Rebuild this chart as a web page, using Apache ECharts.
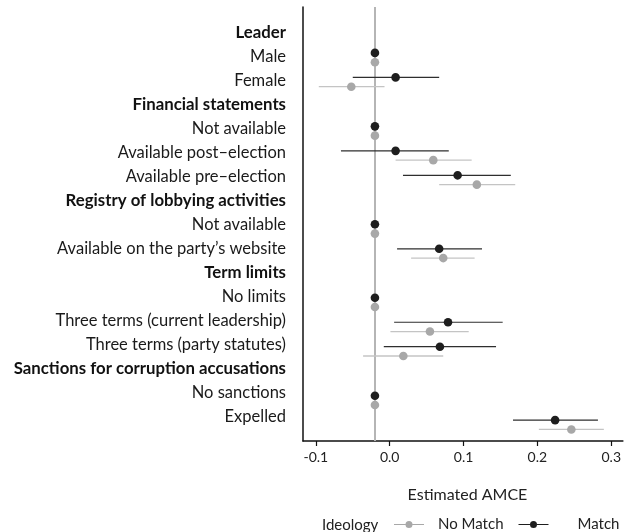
<!DOCTYPE html>
<html>
<head>
<meta charset="utf-8">
<script src="https://cdn.jsdelivr.net/npm/echarts@6/dist/echarts.min.js"></script>
<style>html,body{margin:0;padding:0;background:#fff}#c{width:624px;height:532px}</style>
</head>
<body>
<div id="c"></div>
<script>
// Row labels (top to bottom) and whether each is a group header
const rowLabels = ['Leader','Male','Female','Financial statements','Not available','Available post\u2013election','Available pre\u2013election','Registry of lobbying activities','Not available','Available on the party\u2019s website','Term limits','No limits','Three terms (current leadership)','Three terms (party statutes)','Sanctions for corruption accusations','No sanctions','Expelled'];
const isHeader = [true,false,false,true,false,false,false,true,false,false,true,false,false,false,true,false,false];

// Estimated AMCE and confidence bounds (null = no value)
const matchEst   = [null,-0.02, 0.008,null,-0.02, 0.008,0.092,null,-0.02,0.067,null,-0.02,0.079, 0.068,null,-0.02,0.224];
const matchLo    = [null, null,-0.050,null, null,-0.066,0.018,null, null,0.010,null, null,0.006,-0.008,null, null,0.167];
const matchHi    = [null, null, 0.067,null, null, 0.080,0.164,null, null,0.125,null, null,0.153, 0.144,null, null,0.282];
const noMatchEst = [null,-0.02,-0.052,null,-0.02, 0.059,0.118,null,-0.02,0.0725,null,-0.02,0.0545,0.0185,null,-0.02,0.246];
const noMatchLo  = [null, null,-0.096,null, null, 0.008,0.067,null, null,0.029,null, null,0.001,-0.036,null, null,0.202];
const noMatchHi  = [null, null,-0.007,null, null, 0.111,0.170,null, null,0.115,null, null,0.107, 0.0725,null, null,0.290];

const xTicks = [-0.1, 0, 0.1, 0.2, 0.3];
const refValue = -0.02;

const FONT = 'Lato';

function buildData(est, lo, hi) {
  const out = [];
  est.forEach((e, i) => {
    if (e === null) return;
    out.push([i + 1, e, lo[i] === null ? '-' : lo[i], hi[i] === null ? '-' : hi[i]]);
  });
  return out;
}

function makeRender(dodge, dotColor, ciColor, ciWidth) {
  return function (params, api) {
    const row = api.value(0) + dodge;
    const est = api.value(1), lo = api.value(2), hi = api.value(3);
    const c = api.coord([est, row]);
    const children = [];
    if (isFinite(lo) && isFinite(hi)) {
      const p1 = api.coord([lo, row]), p2 = api.coord([hi, row]);
      children.push({type: 'line', shape: {x1: p1[0], y1: p1[1], x2: p2[0], y2: p2[1]},
        style: {stroke: ciColor, lineWidth: ciWidth}});
    }
    children.push({type: 'circle', shape: {cx: c[0], cy: c[1], r: 4.3}, style: {fill: dotColor}});
    return {type: 'group', children: children};
  };
}

const legendIcon = 'path://M0,3 L11.5,3 L11.5,4 L0,4 Z M18.5,3 L30,3 L30,4 L18.5,4 Z M11.5,3.5 A3.5,3.5 0 1 1 18.5,3.5 A3.5,3.5 0 1 1 11.5,3.5 Z';

const chart = echarts.init(document.getElementById('c'), null, {renderer: 'canvas'});
chart.setOption({
  animation: false,
  backgroundColor: '#fff',
  textStyle: {fontFamily: FONT},
  title: {
    text: 'Ideology', left: 317, top: 513,
    textStyle: {fontFamily: FONT, fontSize: 15, fontWeight: 'normal', color: '#222'}
  },
  legend: {
    left: 394, top: 517, padding: 0,
    itemWidth: 30, itemHeight: 7, itemGap: 15,
    textStyle: {fontFamily: FONT, fontSize: 15, color: '#222',
      rich: {
        a: {fontFamily: FONT, fontSize: 15, color: '#222', padding: [0, 0, 0, 9]},
        b: {fontFamily: FONT, fontSize: 15, color: '#222', padding: [0, 0, 0, 24]}
      }},
    formatter: n => n === 'Match' ? '{b|' + n + '}' : '{a|' + n + '}',
    data: [{name: 'No Match', icon: legendIcon}, {name: 'Match', icon: legendIcon}],
    selectedMode: false
  },
  grid: {left: 303, right: 0, top: 7, bottom: 91, containLabel: false},
  xAxis: {
    type: 'value', min: -0.1174, max: 0.3158,
    name: 'Estimated AMCE', nameLocation: 'middle', nameGap: 46,
    nameTextStyle: {fontFamily: FONT, fontSize: 16, color: '#222', padding: [0, 0, 0, 9]},
    axisLine: {show: true, onZero: false, lineStyle: {color: '#111', width: 1.5}},
    axisTick: {show: true, length: 5, customValues: xTicks, lineStyle: {color: '#111', width: 1.2}},
    axisLabel: {customValues: xTicks, margin: 9, fontFamily: FONT, fontSize: 14, color: '#222',
      formatter: v => v.toFixed(1)},
    splitLine: {show: false}
  },
  yAxis: [
    {
      type: 'value', min: -0.065, max: 17.661, inverse: true, position: 'left',
      axisLine: {show: true, onZero: false, lineStyle: {color: '#111', width: 1.5}},
      axisTick: {show: false}, axisLabel: {show: false}, splitLine: {show: false}
    },
    {
      type: 'value', min: -0.085, max: 18.0, inverse: true, position: 'left',
      axisLine: {show: false, onZero: false}, axisTick: {show: false}, splitLine: {show: false},
      axisLabel: {
        customValues: rowLabels.map((_, i) => i + 1), margin: 17,
        fontFamily: FONT, fontSize: 16.5, color: '#1a1a1a',
        formatter: v => {
          const i = Math.round(v) - 1;
          return isHeader[i] ? '{h|' + rowLabels[i] + '}' : rowLabels[i];
        },
        rich: {h: {fontFamily: FONT, fontSize: 16.8, fontWeight: 'bold', color: '#111'}}
      }
    }
  ],
  series: [
    {
      type: 'line', data: [], z: 1, silent: true,
      markLine: {
        silent: true, symbol: 'none', label: {show: false},
        lineStyle: {color: '#b5b5b5', width: 2, type: 'solid'},
        data: [{xAxis: refValue}]
      }
    },
    {
      name: 'No Match', type: 'custom', coordinateSystem: 'cartesian2d', z: 8,
      itemStyle: {color: '#a8a8a8'},
      encode: {x: [1, 2, 3], y: 0},
      renderItem: makeRender(0.19, '#a8a8a8', '#c4c4c4', 1.3),
      data: buildData(noMatchEst, noMatchLo, noMatchHi)
    },
    {
      name: 'Match', type: 'custom', coordinateSystem: 'cartesian2d', z: 9,
      itemStyle: {color: '#1e1e1e'},
      encode: {x: [1, 2, 3], y: 0},
      renderItem: makeRender(-0.19, '#1e1e1e', '#2e2e2e', 1.2),
      data: buildData(matchEst, matchLo, matchHi)
    }
  ]
});
</script>
</body>
</html>
